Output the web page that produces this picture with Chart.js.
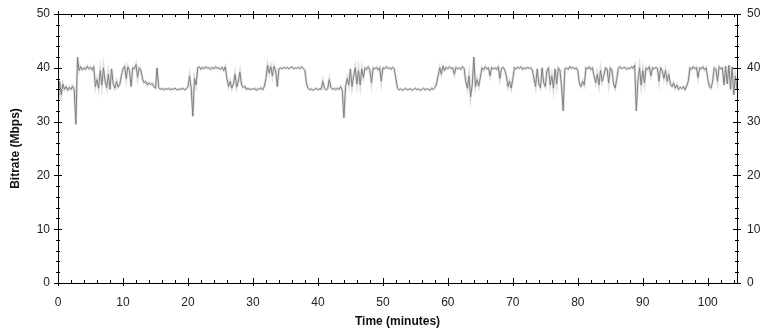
<!DOCTYPE html>
<html>
<head>
<meta charset="utf-8">
<script src="https://cdn.jsdelivr.net/npm/chart.js@4"></script>
<style>
  html, body { margin: 0; padding: 0; background: #fff; }
  #wrap { width: 771px; height: 333px; }
</style>
</head>
<body>
<div id="wrap"><canvas id="chart" width="771" height="333"></canvas></div>
<script>
// sample spacing of the trace, in minutes
var STEP = 0.25;

// bitrate (Mbps), one value every 0.25 min, rows of 5 minutes
var bitrate = [
  33,37.5,35,37,36,36.5,35.8,36.4,36,36.6,35.9,29.5,42,39.5,40.2,39.6,40,39.7,40.3,39.8,
  40.1,39.6,40.2,36.5,37.8,36.2,39.5,36.8,40,37.5,36.3,38.8,36,39.8,37,36.2,37.5,36.4,36.9,38.5,
  39.8,40.3,38,40.2,39.5,36.5,40,39.8,40.6,38.2,40,39.6,38,37.2,37.5,36.8,37.2,36.9,37.1,36.5,
  36.2,40,36.3,36,36.2,35.9,36.1,36,36.2,35.9,36.1,36,36.2,36,35.9,36.1,36,36.2,35.9,36.1,
  36.5,38.5,36.2,31,38,36.8,40,40.2,39.7,40.1,39.8,40.2,39.9,40,39.7,40.1,39.8,40.2,39.9,40,
  39.7,40.1,39.5,40.2,38,36.5,37.5,36.2,37,38.8,36.4,37.5,39.2,36.8,36.3,36.6,36,36.2,35.9,36.1,
  36,36.2,35.8,36.1,36,36.3,35.9,36.5,38,40.5,39,40.2,38.5,40.3,39.5,36.5,39.8,40,39.8,40.1,
  39.9,40.1,39.8,40,40.2,39.8,40,39.9,40.1,39.8,40.2,39.9,39.5,37,36.2,35.9,36.1,35.8,36,36.2,
  35.9,36.1,36,37.5,36.2,35.9,36.1,37.8,36.3,36,36.2,35.9,36.2,36,36.5,35.8,30.7,36.5,38,36.8,
  39.8,36.5,38.5,40,37,39.5,36.8,39.8,38.2,40,39.7,40.2,39.5,37.2,40,39.8,40.1,39.6,40,37.5,
  40,39.8,40.2,39.9,40,39.7,40.1,39.8,38,36.2,35.9,36.1,35.8,36,36.2,35.9,36,36.1,35.8,36,
  36.2,35.9,36.1,35.8,36,36.2,35.9,36.1,36,35.8,36.2,36,36.3,37,38.5,40,38.8,40.3,39.5,40.1,
  39.8,40.2,39.9,40,38.8,40.1,39.8,40,39.7,40.2,39.9,37.5,36.2,38.5,34.6,36.8,42,36.5,37.8,36.6,
  38.2,40,39.6,40.2,39.8,40,38.5,40.1,39.8,40,39.7,40.2,38,39.9,40.1,39.6,38.5,36.5,37.5,36.2,
  38,40,39.8,40.1,39.9,40.2,39.7,40,39.8,40.1,39.9,40,39.6,38,36.5,39.8,37,36.3,40,37.2,
  36.5,39.5,40,36.8,38.5,36.2,39.8,37,40,39.6,36.5,32,39.8,40,39.7,40.2,39.9,40.1,39.8,40,
  39.5,37,36.5,37.5,36.8,40,39.8,40.2,39.7,40,38.5,37.2,38.8,36.8,39.5,37.5,38.5,40,39.8,37.2,
  40,39.6,37,36.2,38,40,40.2,39.8,40,40.1,39.7,40,39.8,40.2,39.9,40.5,32,37.5,40,36.8,
  39.5,37.2,40,39.7,40.2,38.5,40,39.8,40.1,39.9,37.5,40,39.5,38,39.5,37.5,38.8,37,36.5,37.2,
  36.2,36.8,36,36.4,36.1,36.5,35.9,36.6,37.5,40,39.7,40.2,39.8,40.1,38.2,40,39.8,40.2,39.6,40,
  38,36.5,36.2,37.5,40,39.7,37.5,40.2,39.8,40,36.8,40.3,37,40.5,36,40.2,35,38.5,36
];

var xTicks = [0, 10, 20, 30, 40, 50, 60, 70, 80, 90, 100];
var yTicks = [0, 10, 20, 30, 40, 50];

var points = bitrate.map(function (v, i) { return { x: i * STEP, y: v }; });

// box outline plus major/minor tick marks on all four sides
var boxTicks = {
    id: 'boxTicks',
    afterDraw: function (chart) {
        var c = chart.ctx, a = chart.chartArea;
        var xs = chart.scales.x, ys = chart.scales.y;
        c.save();
        c.strokeStyle = '#000';
        c.lineWidth = 1;
        c.beginPath();
        c.rect(Math.round(a.left) + 0.5, Math.round(a.top) + 0.5,
               Math.round(a.right - a.left), Math.round(a.bottom - a.top));
        c.stroke();
        c.beginPath();
        var v, p, major;
        for (v = 0; v <= 104; v += 2) {
            p = Math.round(xs.getPixelForValue(v)) + 0.5;
            major = v % 10 === 0;
            c.moveTo(p, a.bottom + (major ? 3 : 0));
            c.lineTo(p, a.bottom - (major ? 5 : 3));
            c.moveTo(p, a.top - (major ? 3 : 0));
            c.lineTo(p, a.top + (major ? 5 : 3));
        }
        for (v = 0; v <= 50; v += 2) {
            p = Math.round(ys.getPixelForValue(v)) + 0.5;
            major = v % 10 === 0;
            c.moveTo(a.left - (major ? 4 : 2), p);
            c.lineTo(a.left + (major ? 4 : 2), p);
            c.moveTo(a.right + (major ? 4 : 2), p);
            c.lineTo(a.right - (major ? 4 : 2), p);
        }
        c.stroke();
        c.restore();
    }
};

var font = { family: '"Liberation Sans", Arial, sans-serif', size: 12 };
var titleFont = { family: '"Liberation Sans", Arial, sans-serif', size: 12, weight: 'bold' };

new Chart(document.getElementById('chart'), {
    type: 'line',
    data: {
        datasets: [{
            data: points,
            borderColor: '#808080',
            borderWidth: 1,
            pointRadius: 0,
            tension: 0,
            order: 1
        }, {
            data: points,
            borderColor: 'rgba(200,200,200,0.6)',
            borderWidth: 2.5,
            pointRadius: 0,
            tension: 0,
            order: 2
        }]
    },
    options: {
        responsive: false,
        animation: false,
        layout: { padding: { top: 14, left: 0, right: 0, bottom: 0 } },
        plugins: { legend: { display: false }, tooltip: { enabled: false } },
        scales: {
            x: {
                type: 'linear', min: 0, max: 104.5,
                grid: { display: false }, border: { display: false },
                afterBuildTicks: function (s) { s.ticks = xTicks.map(function (v) { return { value: v }; }); },
                ticks: { color: '#222', font: font, padding: 4, maxRotation: 0 },
                title: { display: true, text: 'Time (minutes)', color: '#111', font: titleFont, padding: { top: 4, bottom: 4 } },
                afterFit: function (s) { s.height = 50; }
            },
            y: {
                min: 0, max: 50, position: 'left',
                grid: { display: false }, border: { display: false },
                afterBuildTicks: function (s) { s.ticks = yTicks.map(function (v) { return { value: v }; }); },
                ticks: { color: '#222', font: font, padding: 0 },
                title: { display: true, text: 'Bitrate (Mbps)', color: '#111', font: titleFont, padding: { top: 8, bottom: 0 } },
                afterFit: function (s) { s.width = 58; }
            },
            y2: {
                min: 0, max: 50, position: 'right',
                grid: { display: false }, border: { display: false },
                afterBuildTicks: function (s) { s.ticks = yTicks.map(function (v) { return { value: v }; }); },
                ticks: { color: '#222', font: font, padding: 2 },
                afterFit: function (s) { s.width = 34; }
            }
        }
    },
    plugins: [boxTicks]
});
</script>
</body>
</html>
